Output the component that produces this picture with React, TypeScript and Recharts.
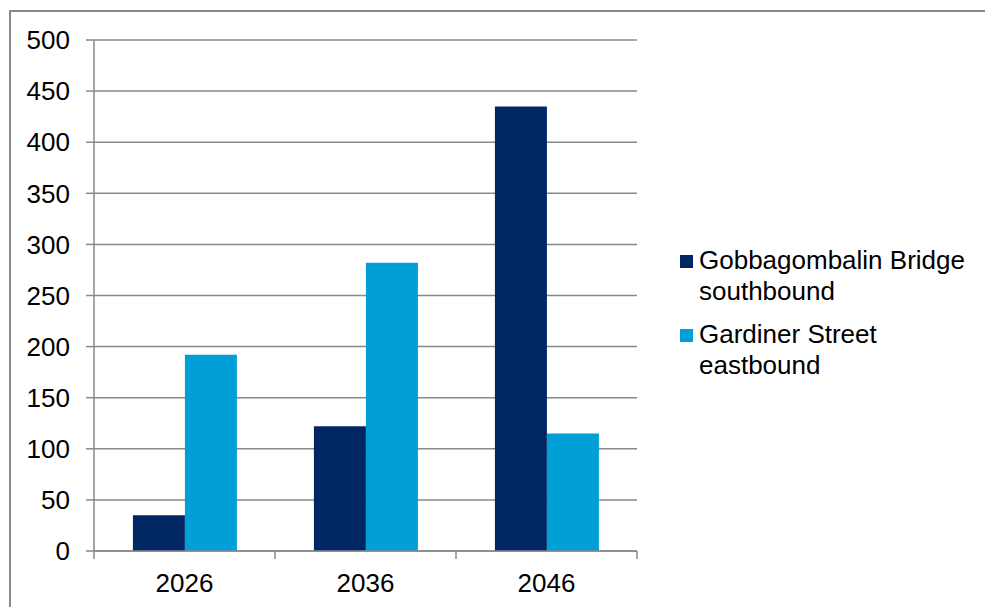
import { BarChart, Bar, XAxis, YAxis, CartesianGrid, Legend } from "recharts";

const years = ["2026", "2036", "2046"];
const gobbagombalin = [35, 122, 435];
const gardiner = [192, 282, 115];
const yTicks = [0, 50, 100, 150, 200, 250, 300, 350, 400, 450, 500];
const seriesNames = ["Gobbagombalin Bridge southbound", "Gardiner Street eastbound"];

const rows = years.map((year, i) => ({
  year,
  gob: gobbagombalin[i],
  gar: gardiner[i],
}));

const FONT = "'Liberation Sans', Arial, sans-serif";
const GREY = "#898989";

const YearTick = (props: any) => {
  const { x, y, payload, index } = props;
  const half = payload.offset ?? 0;
  return (
    <g>
      <line x1={x - half} x2={x - half} y1={y} y2={y + 8} stroke={GREY} strokeWidth={1.5} />
      {index === years.length - 1 && (
        <line x1={x + half} x2={x + half} y1={y} y2={y + 8} stroke={GREY} strokeWidth={1.5} />
      )}
      <text x={x} y={y + 41} textAnchor="middle" fill="#000" fontSize={26} fontFamily={FONT}>
        {payload.value}
      </text>
    </g>
  );
};

const LegendBox = (props: any) => {
  // keep the series order instead of the alphabetical one
  const items = [...(props.payload || [])].sort(
    (a: any, b: any) => seriesNames.indexOf(a.value) - seriesNames.indexOf(b.value)
  );
  return (
    <div style={{ fontFamily: FONT, fontSize: 26, lineHeight: "31px", color: "#000" }}>
      {items.map((p: any, i: number) => (
        <div key={i} style={{ display: "flex", alignItems: "flex-start", marginBottom: 12 }}>
          <div style={{ width: 13, height: 13, background: p.color, marginTop: 10, marginRight: 6, flexShrink: 0 }} />
          <div style={{ width: 290 }}>{p.value}</div>
        </div>
      ))}
    </div>
  );
};

export default function App() {
  return (
    <div style={{ position: "absolute", left: 0, top: 0, width: 985, height: 607, overflow: "hidden", background: "#fff" }}>
      <div style={{ position: "absolute", left: 9, top: 10, width: 1000, height: 700, border: `2px solid ${GREY}` }} />
      <div style={{ position: "absolute", left: 0, top: 0 }}>
        <BarChart
          width={985}
          height={607}
          data={rows}
          margin={{ top: 40, right: 348, left: 0, bottom: 0 }}
          barCategoryGap="21.5%"
          barGap={0}
        >
          <CartesianGrid vertical={false} stroke={GREY} strokeWidth={1.5} />
          <XAxis
            dataKey="year"
            height={56}
            axisLine={{ stroke: GREY, strokeWidth: 1.5 }}
            tickLine={false}
            tickSize={0}
            tickMargin={0}
            tick={<YearTick />}
            interval={0}
          />
          <YAxis
            width={94}
            domain={[0, 500]}
            ticks={yTicks}
            interval={0}
            axisLine={{ stroke: GREY, strokeWidth: 1.5 }}
            tickLine={{ stroke: GREY, strokeWidth: 1.5 }}
            tickSize={8}
            tickMargin={16}
            tick={{ fill: "#000", fontSize: 26, fontFamily: FONT }}
          />
          <Legend
            layout="vertical"
            align="center"
            verticalAlign="middle"
            wrapperStyle={{ left: 680, top: 245, width: 305 }}
            content={<LegendBox />}
          />
          <Bar dataKey="gob" name={seriesNames[0]} fill="#002663" isAnimationActive={false} />
          <Bar dataKey="gar" name={seriesNames[1]} fill="#009fd7" isAnimationActive={false} />
        </BarChart>
      </div>
    </div>
  );
}
